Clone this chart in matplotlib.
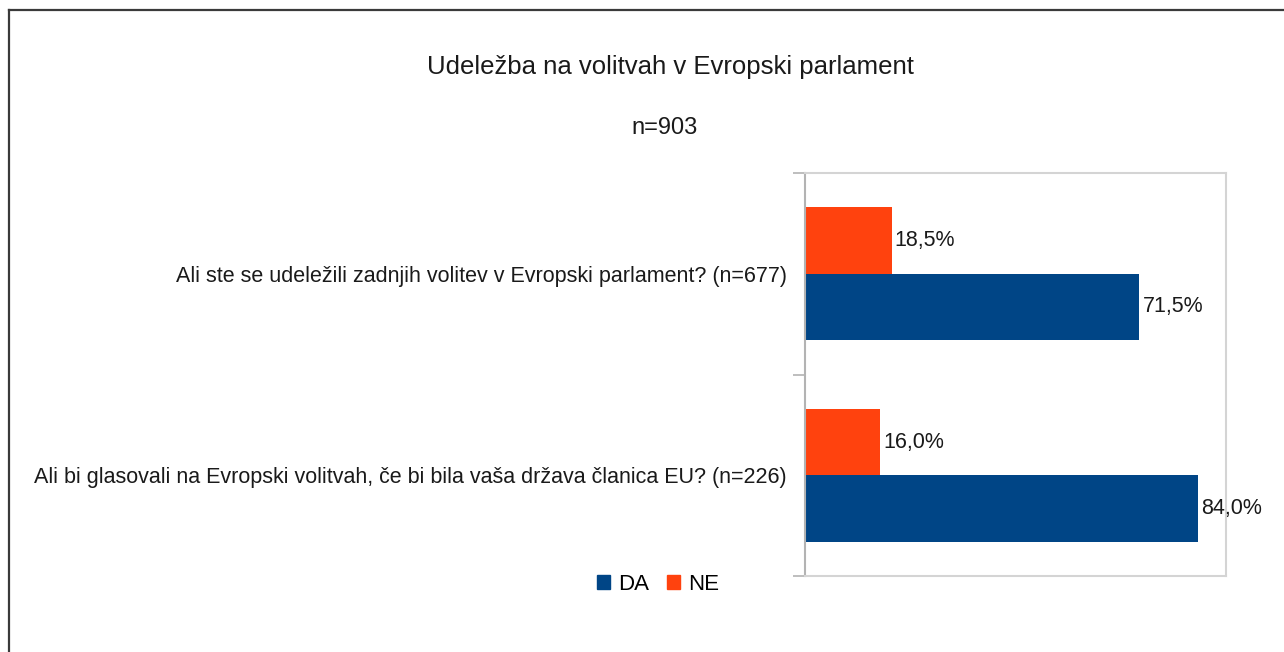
import matplotlib
matplotlib.use("Agg")
import matplotlib.pyplot as plt
from matplotlib.lines import Line2D
from matplotlib.patches import Patch
import numpy as np

plt.rcParams['font.family'] = ['Liberation Sans', 'DejaVu Sans']

TITLE = "Udeležba na volitvah v Evropski parlament"
SUBTITLE = "n=903"
questions = [
    "Ali ste se udeležili zadnjih volitev v Evropski parlament? (n=677)",
    "Ali bi glasovali na Evropski volitvah, če bi bila vaša država članica EU? (n=226)",
]
series_names = ["DA", "NE"]
da_values = [71.5, 84.0]
ne_values = [18.5, 16.0]
COLORS = ["#004586", "#ff420e"]

W, H = 1284, 652
fig = plt.figure(figsize=(W / 100, H / 100), dpi=100)

# outer frame (left + top only visible)
fig.add_artist(Line2D([9 / W, 9 / W], [0, 1 - 10 / H], transform=fig.transFigure, color="#3a3a3a", lw=1.6))
fig.add_artist(Line2D([9 / W, 1], [1 - 10 / H, 1 - 10 / H], transform=fig.transFigure, color="#3a3a3a", lw=1.6))

ax = fig.add_axes([805 / W, 1 - 576 / H, 421 / W, 403 / H])

y = np.arange(len(questions))
bar_h = 0.33
ax.barh(y + bar_h / 2, da_values, height=bar_h, color=COLORS[0], label=series_names[0])
ax.barh(y - bar_h / 2, ne_values, height=bar_h, color=COLORS[1], label=series_names[1])

fs = 15.5
for yi, v in zip(y, da_values):
    ax.text(v + 0.7, yi + bar_h / 2, f"{v:.1f}%".replace(".", ","), va="center", ha="left", fontsize=fs, color="#1a1a1a")
for yi, v in zip(y, ne_values):
    ax.text(v + 0.7, yi - bar_h / 2, f"{v:.1f}%".replace(".", ","), va="center", ha="left", fontsize=fs, color="#1a1a1a")

ax.set_xlim(0, 90)
ax.set_ylim(len(questions) - 0.5, -0.5)
ax.set_xticks([])
ax.set_yticks(y)
ax.set_yticklabels(questions, fontsize=fs, color="#1a1a1a")
ax.tick_params(axis="y", which="major", length=0, pad=13)
ax.set_yticks(np.arange(-0.5, len(questions), 1.0), minor=True)
ax.tick_params(axis="y", which="minor", length=8.5, width=1.2, color="#b3b3b3")

for side in ["top", "right", "bottom"]:
    ax.spines[side].set_color("#d4d4d4")
    ax.spines[side].set_linewidth(1.5)
ax.spines["left"].set_color("#b3b3b3")
ax.spines["left"].set_linewidth(1.5)

fig.text(670 / W, 1 - 67 / H, TITLE, ha="center", va="center", fontsize=18.5, color="#1a1a1a")
fig.text(665 / W, 1 - 128 / H, SUBTITLE, ha="center", va="center", fontsize=17, color="#1a1a1a")

handles = [Patch(color=COLORS[0]), Patch(color=COLORS[1])]
fig.legend(handles, series_names, loc="center", bbox_to_anchor=(658 / W, 1 - 584 / H),
           ncol=2, frameon=False, fontsize=16, handlelength=0.6, handleheight=0.6,
           handletextpad=0.35, columnspacing=0.8)

fig.savefig("out.png", dpi=100)
